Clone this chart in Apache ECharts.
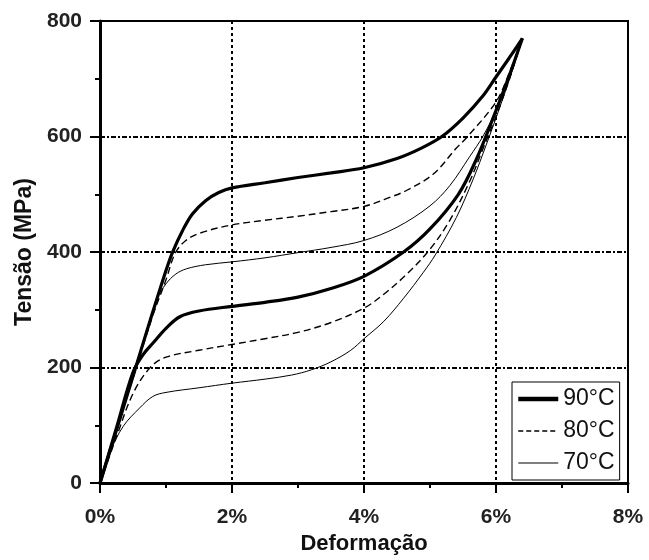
<!DOCTYPE html>
<html><head><meta charset="utf-8">
<script src="https://cdn.jsdelivr.net/npm/echarts@6/dist/echarts.min.js"></script>
<style>html,body{margin:0;padding:0;background:#fff}#c{width:649px;height:560px}</style>
</head><body><div id="c"></div>
<script>
const seriesNames = ['90°C', '80°C', '70°C'];
const xTickValues = [0, 2, 4, 6, 8];
const yTickValues = [0, 200, 400, 600, 800];

// 90°C — loading branch (strain %, stress MPa)
const load90X = [0, 0.25, 0.5, 0.75, 1.0, 1.1, 1.25, 1.4, 1.6, 1.8, 2.0, 2.5, 3.0, 3.5, 4.0, 4.5, 4.87, 5.18, 5.5, 5.8, 6.0, 6.2, 6.4];
const load90Y = [0, 92, 185, 278, 368, 400, 437, 466, 489, 503, 511, 520, 529, 537, 546, 562, 580, 600, 632, 670, 703, 736, 770];
// 90°C — unloading branch (listed by increasing strain)
const unload90X = [0, 0.25, 0.5, 0.65, 0.8, 1.0, 1.21, 1.5, 2.0, 2.5, 3.0, 3.5, 4.0, 4.6, 5.0, 5.43, 5.7, 6.0, 6.2, 6.4];
const unload90Y = [0, 96, 192, 222, 242, 268, 288, 298, 306, 313, 322, 337, 358, 400, 440, 500, 560, 645, 705, 770];

// 80°C
const load80X = [0, 0.25, 0.55, 0.8, 1.0, 1.14, 1.3, 1.52, 2.0, 2.5, 3.0, 3.5, 4.0, 4.4, 4.65, 5.05, 5.4, 5.57, 6.0, 6.2, 6.4];
const load80Y = [0, 92, 200, 290, 352, 398, 420, 433, 447, 455, 462, 470, 479, 495, 507, 535, 580, 600, 660, 710, 770];
const unload80X = [0, 0.25, 0.5, 0.76, 1.0, 1.5, 2.0, 2.5, 3.0, 3.5, 4.0, 4.3, 4.65, 5.0, 5.3, 5.6, 5.8, 6.0, 6.2, 6.4];
const unload80Y = [0, 80, 155, 200, 218, 230, 240, 250, 261, 278, 303, 327, 362, 405, 455, 522, 578, 635, 698, 770];

// 70°C
const load70X = [0, 0.25, 0.5, 0.7, 0.86, 1.0, 1.15, 1.31, 1.6, 2.0, 2.5, 3.0, 3.5, 4.0, 4.5, 5.0, 5.3, 5.6, 5.8, 6.0, 6.2, 6.4];
const load70Y = [0, 95, 188, 262, 318, 345, 362, 371, 378, 383, 390, 399, 408, 420, 443, 480, 515, 565, 600, 645, 700, 770];
const unload70X = [0, 0.15, 0.35, 0.6, 0.8, 1.0, 1.5, 2.0, 2.5, 2.9, 3.2, 3.5, 3.8, 4.0, 4.3, 4.6, 4.9, 5.08, 5.4, 5.65, 5.85, 6.0, 6.2, 6.4];
const unload70Y = [0, 53, 98, 130, 150, 157, 165, 173, 180, 187, 196, 210, 230, 250, 280, 320, 365, 395, 460, 525, 585, 632, 698, 770];

const pairs = (xs, ys) => xs.map((x, i) => [x, ys[i]]);
const styles = {
  '90°C': { width: 3.2, type: 'solid' },
  '80°C': { width: 1.4, type: [7, 4] },
  '70°C': { width: 1, type: 'solid' }
};
const branches = [
  ['90°C', load90X, load90Y], ['90°C', unload90X, unload90Y],
  ['80°C', load80X, load80Y], ['80°C', unload80X, unload80Y],
  ['70°C', load70X, load70Y], ['70°C', unload70X, unload70Y]
];
const legendWidths = { '90°C': 4.5, '80°C': 1.5, '70°C': 1.2 };

const font = 'Liberation Sans, Arial, sans-serif';
const chart = echarts.init(document.getElementById('c'), null, { renderer: 'canvas' });
chart.setOption({
  animation: false,
  backgroundColor: '#fff',
  grid: { left: 100, right: 21, top: 21, bottom: 69, show: true, borderColor: '#000', borderWidth: 2, backgroundColor: 'transparent' },
  legend: {
    data: seriesNames.map(n => ({
      name: n,
      itemStyle: { opacity: 0, borderWidth: 0 },
      lineStyle: { color: '#000', width: legendWidths[n], type: n === '80°C' ? [5, 3] : 'solid' }
    })),
    orient: 'vertical',
    left: 512, top: 382,
    itemWidth: 40, itemHeight: 14, itemGap: 8,
    padding: [5, 5, 5, 4],
    borderColor: '#000', borderWidth: 1, backgroundColor: '#fff',
    textStyle: { fontFamily: font, fontSize: 23, color: '#111', lineHeight: 24 }
  },
  xAxis: {
    type: 'value', min: xTickValues[0], max: xTickValues[xTickValues.length - 1], interval: 2,
    name: 'Deformação', nameLocation: 'middle', nameGap: 42,
    nameTextStyle: { fontFamily: font, fontSize: 22, fontWeight: 'bold', color: '#111' },
    axisLine: { lineStyle: { color: '#000', width: 3 } },
    axisTick: { length: 10, lineStyle: { color: '#000', width: 2 } },
    minorTick: { show: true, splitNumber: 2, length: 5, lineStyle: { color: '#000', width: 2 } },
    axisLabel: { formatter: '{value}%', fontFamily: font, fontSize: 21, fontWeight: 'bold', color: '#222', margin: 24 },
    splitLine: { show: true, showMinLine: false, showMaxLine: false, lineStyle: { color: '#000', width: 2, type: [3, 3] } }
  },
  yAxis: {
    type: 'value', min: yTickValues[0], max: yTickValues[yTickValues.length - 1], interval: 200,
    name: 'Tensão (MPa)', nameLocation: 'middle', nameGap: 64, nameRotate: 90,
    nameTextStyle: { fontFamily: font, fontSize: 23, fontWeight: 'bold', color: '#111' },
    axisLine: { lineStyle: { color: '#000', width: 3 } },
    axisTick: { length: 10, lineStyle: { color: '#000', width: 2 } },
    minorTick: { show: true, splitNumber: 2, length: 5, lineStyle: { color: '#000', width: 2 } },
    axisLabel: { fontFamily: font, fontSize: 21, fontWeight: 'bold', color: '#222', margin: 18 },
    splitLine: { show: true, showMinLine: false, showMaxLine: false, lineStyle: { color: '#000', width: 2, type: [5, 2, 2, 2] } }
  },
  series: branches.map(([name, xs, ys]) => ({
    name: name, type: 'line', data: pairs(xs, ys),
    symbol: 'none', smooth: 0.35,
    lineStyle: { color: '#000', width: styles[name].width, type: styles[name].type },
    itemStyle: { color: '#000' },
    z: 3
  }))
});
</script></body></html>
